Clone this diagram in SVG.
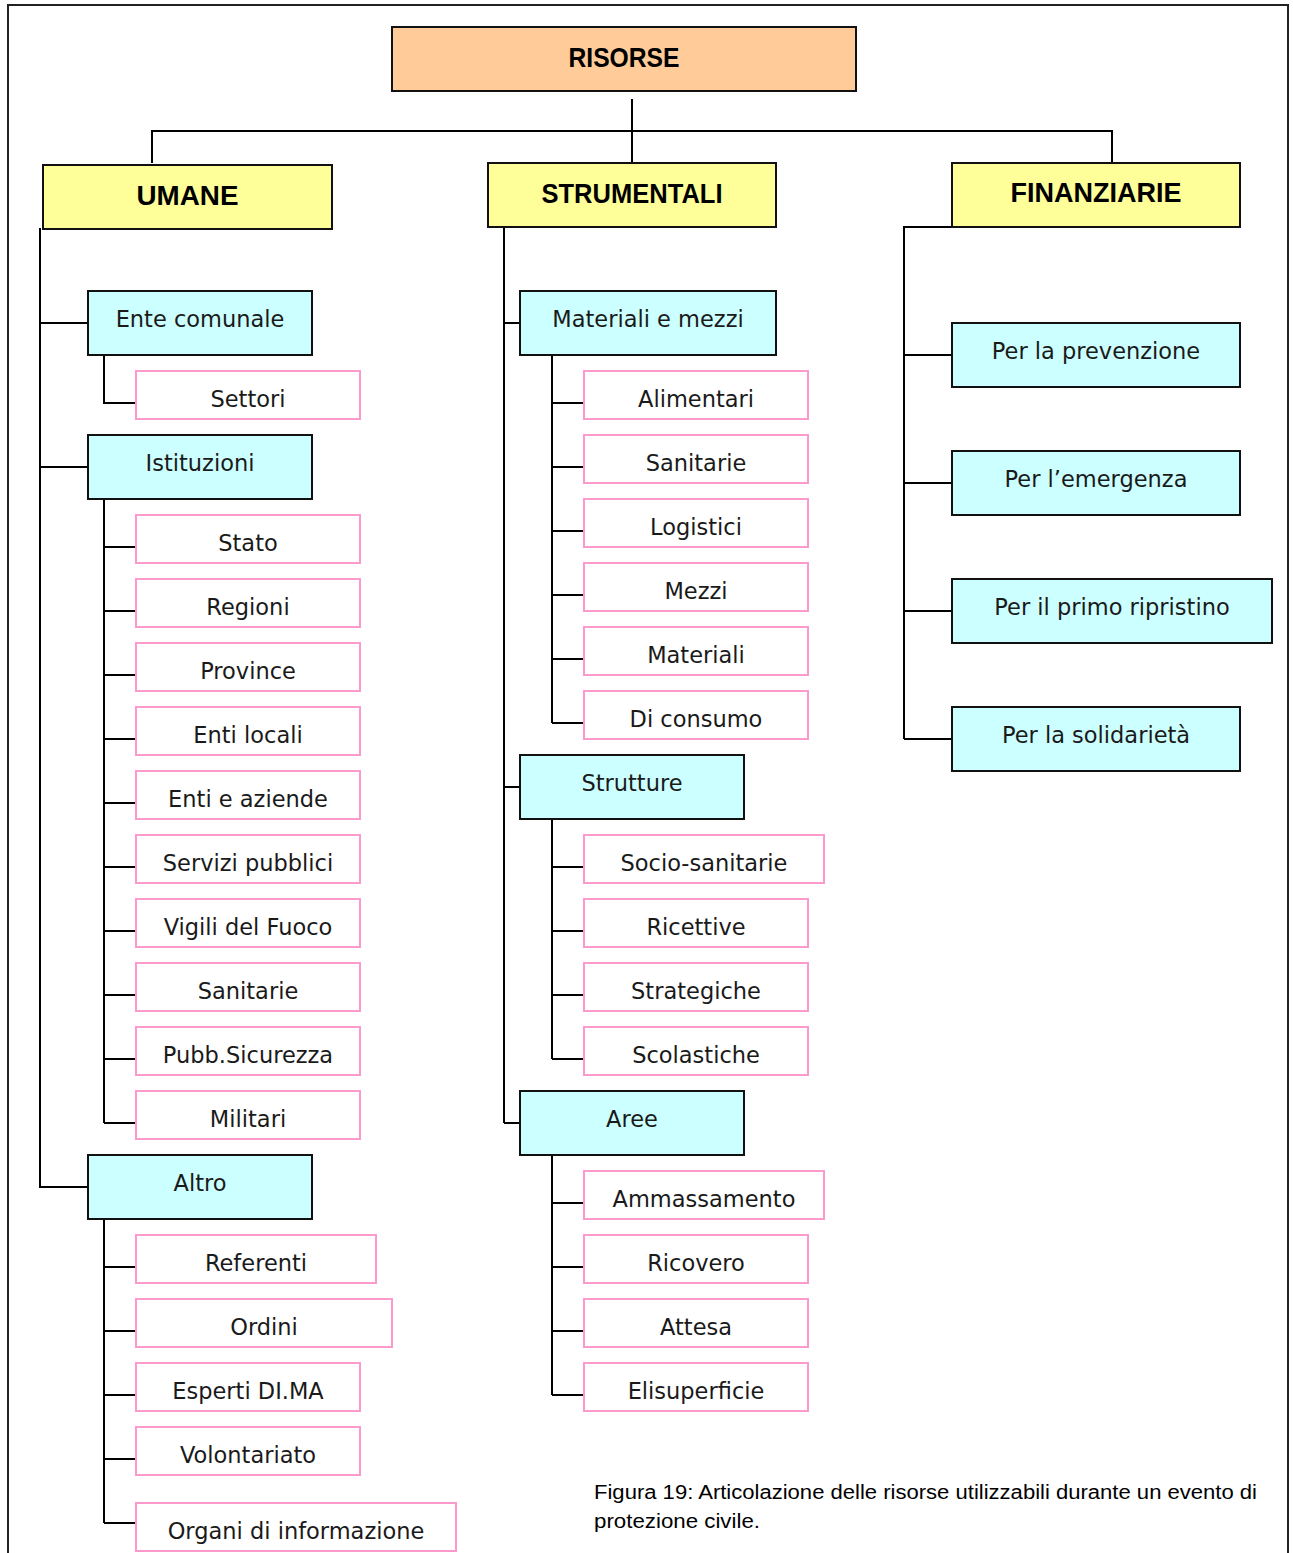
<svg xmlns="http://www.w3.org/2000/svg" width="1293" height="1553" viewBox="0 0 1293 1553">
<style>
.frame{fill:none;stroke:#222;stroke-width:2}
.c{fill:none;stroke:#000;stroke-width:2}
.root{fill:#FFCC99;stroke:#111;stroke-width:2}
.cat{fill:#FFFF99;stroke:#111;stroke-width:2}
.grp{fill:#CCFFFF;stroke:#111;stroke-width:2}
.leaf{fill:#fff;stroke:#FF99CC;stroke-width:2}
.h{font-family:"Liberation Sans",Arial,sans-serif;font-weight:bold;font-size:28px;fill:#000;text-anchor:middle}
.t{font-family:"DejaVu Sans","Liberation Sans",sans-serif;font-size:22.5px;fill:#1a1a1a;text-anchor:middle}
.cap{font-family:"Liberation Sans",Arial,sans-serif;font-size:20px;fill:#000}
</style>
<rect x="0" y="0" width="1293" height="1553" fill="#fff"/>
<path class="frame" d="M8,1553 V5 H1288 V1553"/>
<g id="connectors">
<path class="c" d="M632,99 V163 M152,163 V131 H1112 V163"/>
<path class="c" d="M40,228 V1188 M40,323 H88 M40,467 H88 M40,1187 H88"/>
<path class="c" d="M104,355 V403 H136"/>
<path class="c" d="M104,499 V1123 M104,547 H136 M104,611 H136 M104,675 H136 M104,739 H136 M104,803 H136 M104,867 H136 M104,931 H136 M104,995 H136 M104,1059 H136 M104,1123 H136"/>
<path class="c" d="M104,1219 V1523 M104,1267 H136 M104,1331 H136 M104,1395 H136 M104,1459 H136 M104,1523 H136"/>
<path class="c" d="M504,227 V1123 M504,323 H520 M504,787 H520 M504,1123 H520"/>
<path class="c" d="M552,355 V723 M552,403 H584 M552,467 H584 M552,531 H584 M552,595 H584 M552,659 H584 M552,723 H584"/>
<path class="c" d="M552,819 V1059 M552,867 H584 M552,931 H584 M552,995 H584 M552,1059 H584"/>
<path class="c" d="M552,1155 V1395 M552,1203 H584 M552,1267 H584 M552,1331 H584 M552,1395 H584"/>
<path class="c" d="M952,227 H904 V739 M904,355 H952 M904,483 H952 M904,611 H952 M904,739 H952"/>
</g>
<g id="n-risorse"><rect class="root" x="392" y="27" width="464" height="64"/><text class="h" x="624" y="67" textLength="111" lengthAdjust="spacingAndGlyphs">RISORSE</text></g>
<g id="n-umane"><rect class="cat" x="43" y="165" width="289" height="64"/><text class="h" x="187.5" y="205" textLength="102" lengthAdjust="spacingAndGlyphs">UMANE</text></g>
<g id="n-strumentali"><rect class="cat" x="488" y="163" width="288" height="64"/><text class="h" x="632" y="203" textLength="181" lengthAdjust="spacingAndGlyphs">STRUMENTALI</text></g>
<g id="n-finanziarie"><rect class="cat" x="952" y="163" width="288" height="64"/><text class="h" x="1096" y="202" textLength="171" lengthAdjust="spacingAndGlyphs">FINANZIARIE</text></g>

<g id="n-ente"><rect class="grp" x="88" y="291" width="224" height="64"/><text class="t" x="200" y="327">Ente comunale</text></g>
<g id="n-settori"><rect class="leaf" x="136" y="371" width="224" height="48"/><text class="t" x="248" y="407">Settori</text></g>
<g id="n-istituzioni"><rect class="grp" x="88" y="435" width="224" height="64"/><text class="t" x="200" y="471">Istituzioni</text></g>
<g id="n-stato"><rect class="leaf" x="136" y="515" width="224" height="48"/><text class="t" x="248" y="551">Stato</text></g>
<g id="n-regioni"><rect class="leaf" x="136" y="579" width="224" height="48"/><text class="t" x="248" y="615">Regioni</text></g>
<g id="n-province"><rect class="leaf" x="136" y="643" width="224" height="48"/><text class="t" x="248" y="679">Province</text></g>
<g id="n-entilocali"><rect class="leaf" x="136" y="707" width="224" height="48"/><text class="t" x="248" y="743">Enti locali</text></g>
<g id="n-entiaziende"><rect class="leaf" x="136" y="771" width="224" height="48"/><text class="t" x="248" y="807">Enti e aziende</text></g>
<g id="n-servizi"><rect class="leaf" x="136" y="835" width="224" height="48"/><text class="t" x="248" y="871">Servizi pubblici</text></g>
<g id="n-vigili"><rect class="leaf" x="136" y="899" width="224" height="48"/><text class="t" x="248" y="935">Vigili del Fuoco</text></g>
<g id="n-sanitarie1"><rect class="leaf" x="136" y="963" width="224" height="48"/><text class="t" x="248" y="999">Sanitarie</text></g>
<g id="n-pubb"><rect class="leaf" x="136" y="1027" width="224" height="48"/><text class="t" x="248" y="1063">Pubb.Sicurezza</text></g>
<g id="n-militari"><rect class="leaf" x="136" y="1091" width="224" height="48"/><text class="t" x="248" y="1127">Militari</text></g>
<g id="n-altro"><rect class="grp" x="88" y="1155" width="224" height="64"/><text class="t" x="200" y="1191">Altro</text></g>
<g id="n-referenti"><rect class="leaf" x="136" y="1235" width="240" height="48"/><text class="t" x="256" y="1271">Referenti</text></g>
<g id="n-ordini"><rect class="leaf" x="136" y="1299" width="256" height="48"/><text class="t" x="264" y="1335">Ordini</text></g>
<g id="n-esperti"><rect class="leaf" x="136" y="1363" width="224" height="48"/><text class="t" x="248" y="1399">Esperti DI.MA</text></g>
<g id="n-volontariato"><rect class="leaf" x="136" y="1427" width="224" height="48"/><text class="t" x="248" y="1463">Volontariato</text></g>
<g id="n-organi"><rect class="leaf" x="136" y="1503" width="320" height="48"/><text class="t" x="296" y="1539">Organi di informazione</text></g>

<g id="n-materiali"><rect class="grp" x="520" y="291" width="256" height="64"/><text class="t" x="648" y="327">Materiali e mezzi</text></g>
<g id="n-alimentari"><rect class="leaf" x="584" y="371" width="224" height="48"/><text class="t" x="696" y="407">Alimentari</text></g>
<g id="n-sanitarie2"><rect class="leaf" x="584" y="435" width="224" height="48"/><text class="t" x="696" y="471">Sanitarie</text></g>
<g id="n-logistici"><rect class="leaf" x="584" y="499" width="224" height="48"/><text class="t" x="696" y="535">Logistici</text></g>
<g id="n-mezzi"><rect class="leaf" x="584" y="563" width="224" height="48"/><text class="t" x="696" y="599">Mezzi</text></g>
<g id="n-materiali2"><rect class="leaf" x="584" y="627" width="224" height="48"/><text class="t" x="696" y="663">Materiali</text></g>
<g id="n-consumo"><rect class="leaf" x="584" y="691" width="224" height="48"/><text class="t" x="696" y="727">Di consumo</text></g>
<g id="n-strutture"><rect class="grp" x="520" y="755" width="224" height="64"/><text class="t" x="632" y="791">Strutture</text></g>
<g id="n-socio"><rect class="leaf" x="584" y="835" width="240" height="48"/><text class="t" x="704" y="871">Socio-sanitarie</text></g>
<g id="n-ricettive"><rect class="leaf" x="584" y="899" width="224" height="48"/><text class="t" x="696" y="935">Ricettive</text></g>
<g id="n-strategiche"><rect class="leaf" x="584" y="963" width="224" height="48"/><text class="t" x="696" y="999">Strategiche</text></g>
<g id="n-scolastiche"><rect class="leaf" x="584" y="1027" width="224" height="48"/><text class="t" x="696" y="1063">Scolastiche</text></g>
<g id="n-aree"><rect class="grp" x="520" y="1091" width="224" height="64"/><text class="t" x="632" y="1127">Aree</text></g>
<g id="n-ammassamento"><rect class="leaf" x="584" y="1171" width="240" height="48"/><text class="t" x="704" y="1207">Ammassamento</text></g>
<g id="n-ricovero"><rect class="leaf" x="584" y="1235" width="224" height="48"/><text class="t" x="696" y="1271">Ricovero</text></g>
<g id="n-attesa"><rect class="leaf" x="584" y="1299" width="224" height="48"/><text class="t" x="696" y="1335">Attesa</text></g>
<g id="n-elisuperficie"><rect class="leaf" x="584" y="1363" width="224" height="48"/><text class="t" x="696" y="1399">Elisuperficie</text></g>

<g id="n-prevenzione"><rect class="grp" x="952" y="323" width="288" height="64"/><text class="t" x="1096" y="359">Per la prevenzione</text></g>
<g id="n-emergenza"><rect class="grp" x="952" y="451" width="288" height="64"/><text class="t" x="1096" y="487">Per l’emergenza</text></g>
<g id="n-ripristino"><rect class="grp" x="952" y="579" width="320" height="64"/><text class="t" x="1112" y="615">Per il primo ripristino</text></g>
<g id="n-solidarieta"><rect class="grp" x="952" y="707" width="288" height="64"/><text class="t" x="1096" y="743">Per la solidarietà</text></g>

<g id="caption">
<text class="cap" x="594" y="1499" textLength="663" lengthAdjust="spacingAndGlyphs">Figura 19: Articolazione delle risorse utilizzabili durante un evento di</text>
<text class="cap" x="594" y="1528" textLength="166" lengthAdjust="spacingAndGlyphs">protezione civile.</text>
</g>
</svg>
